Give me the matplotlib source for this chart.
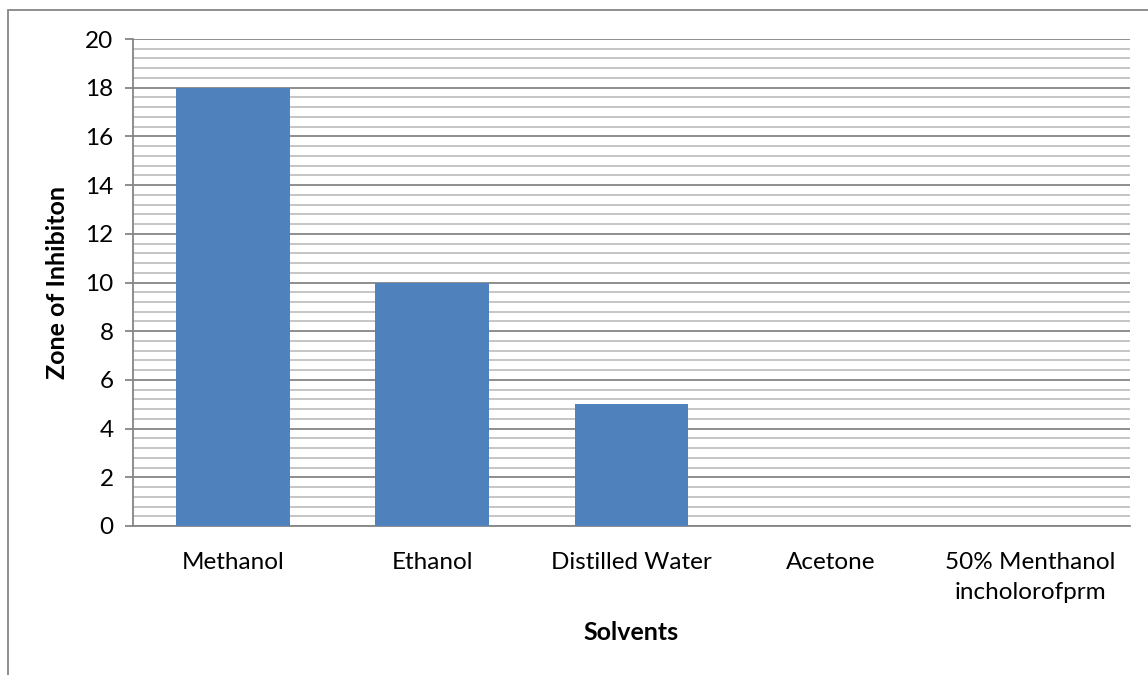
import matplotlib
matplotlib.use("Agg")
import matplotlib.pyplot as plt
from matplotlib.patches import Rectangle
from matplotlib.ticker import MultipleLocator

categories = ["Methanol", "Ethanol", "Distilled Water", "Acetone", "50% Menthanol\nincholorofprm"]
values = [18, 10, 5, 0, 0]
y_ticks = [0, 2, 4, 6, 8, 10, 12, 14, 16, 18, 20]

plt.rcParams['font.family'] = ['Lato', 'DejaVu Sans']

W, H = 1148, 675
fig = plt.figure(figsize=(W / 100, H / 100), dpi=100)
ax = fig.add_axes([133 / W, 1 - 526 / H, (1130 - 133) / W, (526 - 39) / H])

x = list(range(len(categories)))
ax.bar(x, values, width=0.57, color="#4F81BD", zorder=3)
ax.set_xlim(-0.5, len(categories) - 0.5)
ax.set_ylim(0, 20)
ax.set_yticks(y_ticks)
ax.yaxis.set_minor_locator(MultipleLocator(0.4))
ax.grid(axis="y", which="major", color="#868686", linewidth=1.3, zorder=1)
ax.grid(axis="y", which="minor", color="#C0C0C0", linewidth=1.3, zorder=1)
ax.set_xticks(x)
ax.set_xticklabels(categories, fontsize=17.5, color="#000000", linespacing=1.5)
ax.tick_params(axis="x", length=0, pad=19)
ax.tick_params(axis="y", which="major", length=6, width=1.3, color="#868686", labelsize=17.5, pad=8)
ax.tick_params(axis="y", which="minor", length=0)
for s in ["top", "right"]:
    ax.spines[s].set_visible(False)
for s in ["left", "bottom"]:
    ax.spines[s].set_color("#868686")
    ax.spines[s].set_linewidth(1.3)

ax.set_ylabel("Zone of Inhibiton", fontsize=18, fontweight="bold", labelpad=12)
fig.text((133 + 1130) / 2 / W, 1 - 633 / H, "Solvents", fontsize=18, fontweight="bold",
         ha="center", va="center")

frame = Rectangle((7.5 / W, -0.1), 1.2, 1 - 9.5 / H + 0.1, transform=fig.transFigure,
                  fill=False, edgecolor="#868686", linewidth=1.3, clip_on=False)
fig.patches.append(frame)

fig.savefig("out.png", dpi=100)
